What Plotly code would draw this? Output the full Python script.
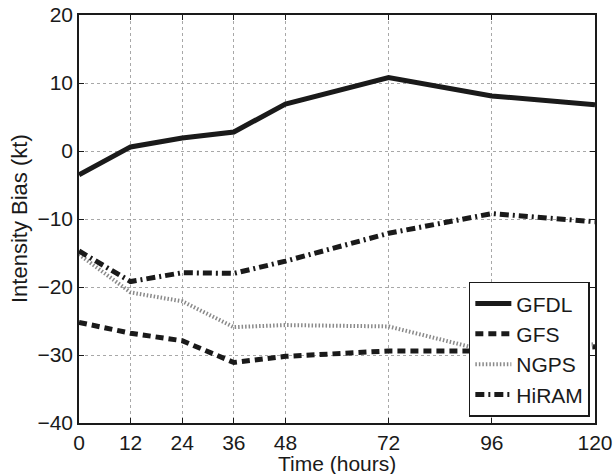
import plotly.graph_objects as go

hours = [0, 12, 24, 36, 48, 72, 96, 120]
gfdl = [-3.5, 0.6, 1.9, 2.8, 6.9, 10.8, 8.1, 6.8]
gfs = [-25.2, -26.8, -27.9, -31.1, -30.2, -29.4, -29.4, -28.8]
ngps = [-15.2, -20.8, -22.1, -25.9, -25.6, -25.8, -29.6, -28.4]
hiram = [-14.7, -19.2, -17.9, -18.0, -16.2, -12.1, -9.2, -10.4]

xticks = [0, 12, 24, 36, 48, 72, 96, 120]
yticks = [-40, -30, -20, -10, 0, 10, 20]

FONT = "Liberation Sans, Arial, Helvetica, sans-serif"
INK = "#1a1a1a"

fig = go.Figure()
fig.add_trace(go.Scatter(x=hours, y=gfdl, name="GFDL", mode="lines",
                         line=dict(color=INK, width=5)))
fig.add_trace(go.Scatter(x=hours, y=gfs, name="GFS", mode="lines",
                         line=dict(color=INK, width=5, dash="8px,5px")))
fig.add_trace(go.Scatter(x=hours, y=ngps, name="NGPS", mode="lines",
                         line=dict(color="#8a8a8a", width=4, dash="1.5px,2px")))
fig.add_trace(go.Scatter(x=hours, y=hiram, name="HiRAM", mode="lines",
                         line=dict(color=INK, width=5, dash="9px,4px,2px,4px")))

axis_common = dict(
    showline=True, linecolor=INK, linewidth=1.5, mirror="ticks",
    ticks="inside", ticklen=5, tickcolor=INK,
    showgrid=True, gridcolor="#a8a8a8", griddash="dot", gridwidth=1,
    zeroline=False, automargin=False, ticklabeloverflow="allow",
    tickfont=dict(family=FONT, size=21, color=INK),
)

fig.update_xaxes(range=[0, 120], tickvals=xticks, ticktext=[str(v) for v in xticks],
                 **axis_common)
fig.update_yaxes(range=[-40, 20], tickvals=yticks, **axis_common)

fig.add_annotation(text="Time (hours)", xref="paper", yref="paper",
                   x=0.5, y=0, yshift=-40, xanchor="center", yanchor="middle",
                   showarrow=False, borderpad=0,
                   font=dict(family=FONT, size=21, color=INK))
fig.add_annotation(text="Intensity Bias (kt)", xref="paper", yref="paper",
                   x=0, xshift=-60, y=0.5, xanchor="center", yanchor="middle",
                   textangle=-90, showarrow=False,
                   font=dict(family=FONT, size=22, color=INK))

fig.update_layout(
    width=614, height=474,
    margin=dict(l=79, r=19, t=15, b=51),
    plot_bgcolor="white", paper_bgcolor="white",
    showlegend=True,
    legend=dict(x=0.99, y=0.015, xanchor="right", yanchor="bottom",
                bgcolor="white", bordercolor=INK, borderwidth=1.5,
                font=dict(family=FONT, size=21, color=INK),
                tracegroupgap=0, itemwidth=36),
)

fig.write_html("out.html", config={"displayModeBar": False},
               post_script="document.body.style.margin='0';document.body.style.overflow='hidden';")
